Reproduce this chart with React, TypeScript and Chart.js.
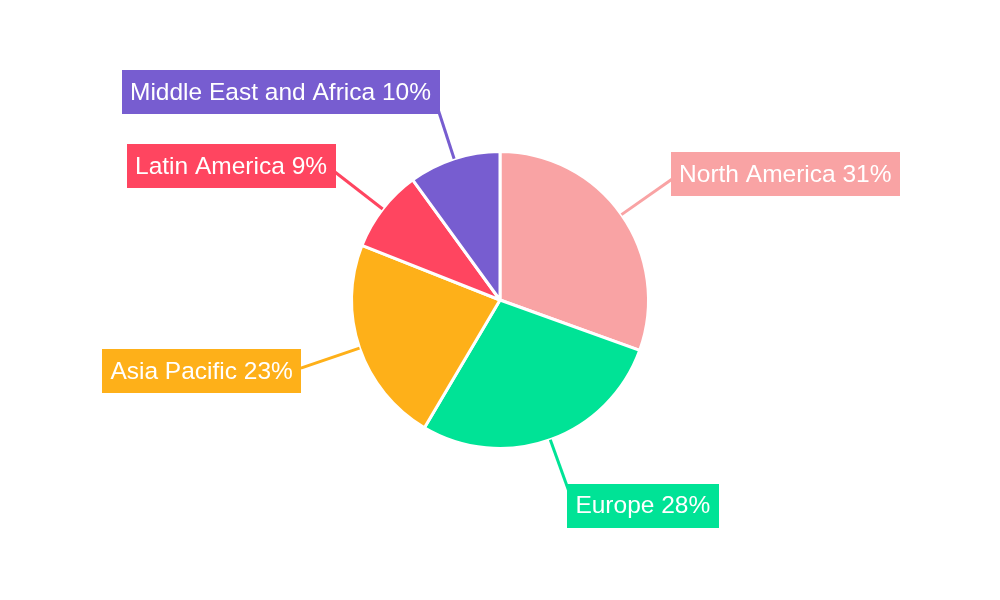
import React, { useEffect, useRef } from "react";
import { Chart, registerables } from "chart.js";

Chart.register(...registerables);

const regions = ["North America", "Europe", "Asia Pacific", "Latin America", "Middle East and Africa"];
const shares = [30.5, 28, 22.5, 9, 10];
const colors = ["#F9A3A4", "#00E396", "#FEB019", "#FF4560", "#775DD0"];

const calloutPlugin = {
  id: "callouts",
  afterDatasetsDraw(chart: any) {
    const ctx = chart.ctx as CanvasRenderingContext2D;
    const meta = chart.getDatasetMeta(0);
    const total = shares.reduce((a, b) => a + b, 0);
    const items: any[] = [];
    meta.data.forEach((arc: any, i: number) => {
      const mid = (arc.startAngle + arc.endAngle) / 2;
      const cx = arc.x, cy = arc.y, r = arc.outerRadius;
      const dx = Math.cos(mid), dy = Math.sin(mid);
      const r2 = r + 62;
      const p0 = { x: cx + dx * r, y: cy + dy * r };
      const p1 = { x: cx + dx * r2, y: cy + dy * r2 };
      const text = `${regions[i]} ${Math.round((shares[i] / total) * 100)}%`;
      items.push({ p0, p1, dx, dy, text, color: colors[i] });
    });
    ctx.save();
    ctx.lineWidth = 3;
    ctx.lineCap = "butt";
    items.forEach((it) => {
      ctx.strokeStyle = it.color;
      ctx.beginPath();
      ctx.moveTo(it.p0.x, it.p0.y);
      ctx.lineTo(it.p1.x, it.p1.y);
      ctx.stroke();
    });
    ctx.font = '24.5px "Liberation Sans", Arial, sans-serif';
    ctx.textBaseline = "middle";
    ctx.textAlign = "center";
    items.forEach((it) => {
      const tw = ctx.measureText(it.text).width;
      const w = tw + 17;
      const h = 44;
      const side = it.dx >= 0 ? 1 : -1;
      const vert = it.dy;
      const ccx = it.p1.x + side * (w / 2 - 5 * vert * vert);
      const ccy = it.p1.y + 8 * vert;
      ctx.fillStyle = it.color;
      ctx.fillRect(Math.round(ccx - w / 2), Math.round(ccy - h / 2), Math.round(w), h);
      ctx.fillStyle = "#ffffff";
      ctx.fillText(it.text, ccx, ccy + 1);
    });
    ctx.restore();
  },
};

export default function App() {
  const ref = useRef<HTMLCanvasElement | null>(null);
  useEffect(() => {
    if (!ref.current) return;
    const chart = new Chart(ref.current, {
      type: "pie",
      data: {
        labels: regions,
        datasets: [
          {
            data: shares,
            backgroundColor: colors,
            borderColor: "#ffffff",
            borderWidth: 3,
            hoverOffset: 0,
          },
        ],
      },
      options: {
        animation: false,
        responsive: false,
        layout: { padding: { left: 350, right: 350, top: 150, bottom: 150 } },
        plugins: { legend: { display: false }, tooltip: { enabled: false } },
      },
      plugins: [calloutPlugin],
    });
    return () => chart.destroy();
  }, []);
  return (
    <div style={{ position: "fixed", left: 0, top: 0, width: 1000, height: 600, background: "#fff" }}>
      <canvas ref={ref} width={1000} height={600} style={{ width: 1000, height: 600, display: "block" }} />
    </div>
  );
}
